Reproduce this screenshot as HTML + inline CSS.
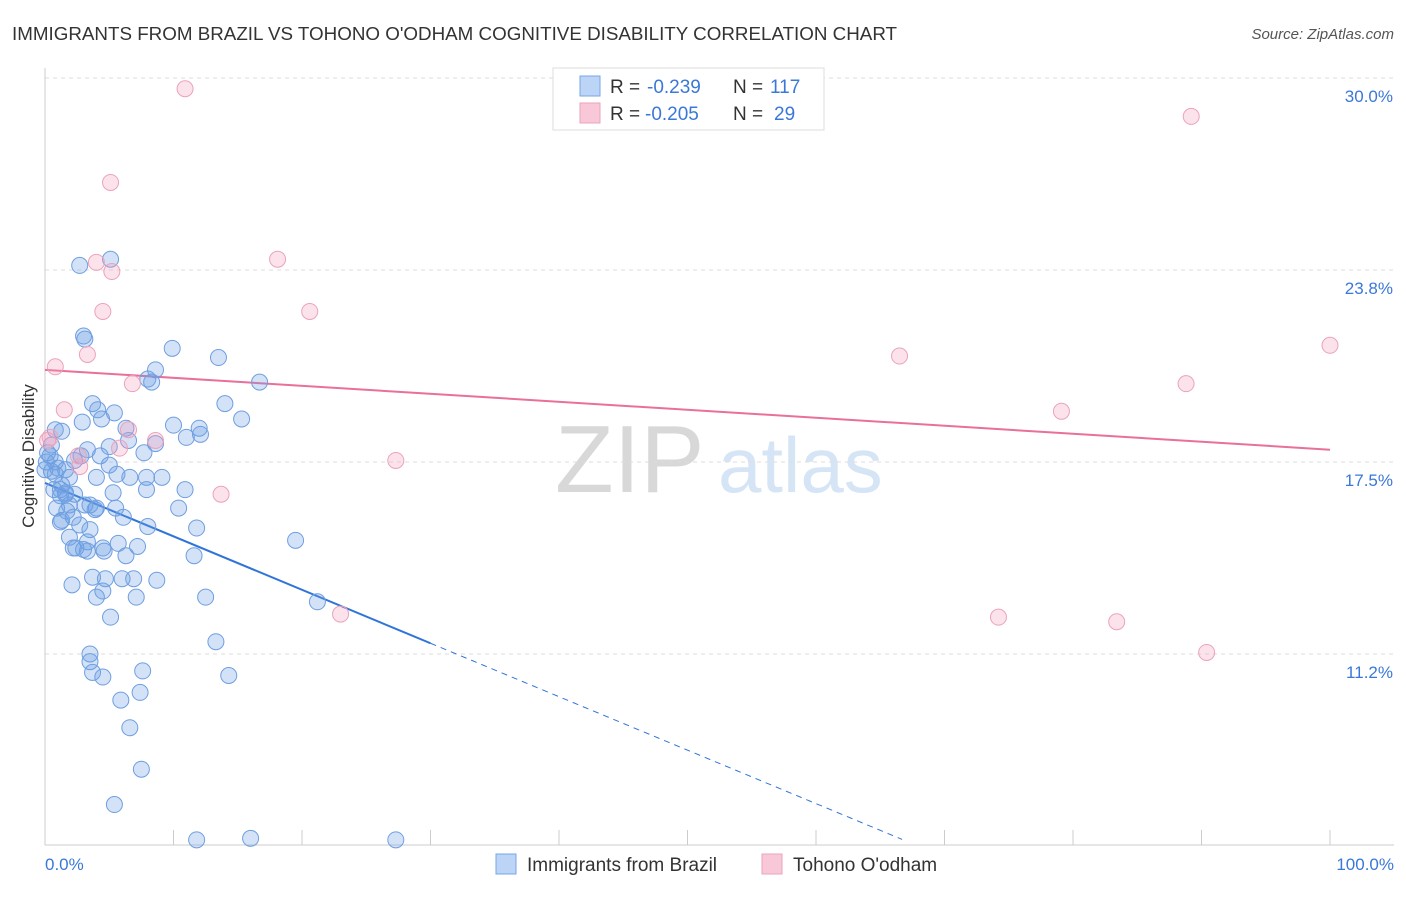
<!DOCTYPE html>
<html><head><meta charset="utf-8"><style>
body{margin:0;background:#fff;font-family:"Liberation Sans",sans-serif}
svg text{font-family:"Liberation Sans",sans-serif}
</style></head><body>
<svg id="chart" width="1406" height="892" viewBox="0 0 1406 892" xmlns="http://www.w3.org/2000/svg">
<text x="12" y="40" font-size="18.8" fill="#333">IMMIGRANTS FROM BRAZIL VS TOHONO O'ODHAM COGNITIVE DISABILITY CORRELATION CHART</text>
<text x="1394" y="39" font-size="15" fill="#555" text-anchor="end" font-style="italic">Source: ZipAtlas.com</text>
<text transform="translate(34,456) rotate(-90)" font-size="17" fill="#333" text-anchor="middle">Cognitive Disability</text>
<g>
<text x="555" y="492" font-size="96" fill="#d8d8d8" font-family="Liberation Serif">ZIP</text>
<text x="718" y="492" font-size="78" fill="#d6e5f6">atlas</text>
</g>
<g id="grid"></g><g id="axes"></g><g id="lines"></g><g id="pts"></g>
<g>
<rect x="553" y="68" width="271" height="62" fill="#fff" stroke="#ddd"/>
<rect x="580" y="76" width="20" height="20" fill="#bcd4f5" stroke="#7aa6e6"/>
<text x="610" y="93" font-size="19" fill="#333">R =</text>
<text x="647" y="93" font-size="19" fill="#3a78d8">-0.239</text>
<text x="733" y="93" font-size="19" fill="#333">N =</text>
<text x="770" y="93" font-size="19" fill="#3a78d8">117</text>
<rect x="580" y="103" width="20" height="20" fill="#f9c8d8" stroke="#eba3bb"/>
<text x="610" y="120" font-size="19" fill="#333">R =</text>
<text x="645" y="120" font-size="19" fill="#3a78d8">-0.205</text>
<text x="733" y="120" font-size="19" fill="#333">N =</text>
<text x="774" y="120" font-size="19" fill="#3a78d8">29</text>
</g>
<g>
<rect x="496" y="854" width="20" height="20" fill="#bcd4f5" stroke="#7aa6e6"/>
<text x="527" y="871" font-size="19" fill="#333">Immigrants from Brazil</text>
<rect x="762" y="854" width="20" height="20" fill="#f9c8d8" stroke="#eba3bb"/>
<text x="793" y="871" font-size="19" fill="#333">Tohono O'odham</text>
</g>
</svg>
<script>
const yTicks=[11.25,17.5,23.75,30.0];
const yTickLabels=["11.2%","17.5%","23.8%","30.0%"];
const xEndLabels=["0.0%","100.0%"];
const brazilX=[2.7,5.1,3.0,3.1,9.9,13.5,8.6,8.0,8.3,16.7,3.7,4.1,5.4,14.0,15.3,4.4,2.9,10.0,12.0,12.1,11.0,1.3,6.3,6.5,8.6,5.0,3.3,7.7,0.4,0.8,5.0,1.0,2.8,0.5,5.6,6.6,7.9,9.1,4.0,1.9,1.3,0.7,1.6,1.2,7.9,10.9,5.3,3.5,4.0,5.5,10.4,0.9,1.7,2.2,1.2,6.1,8.0,11.8,3.3,2.2,2.4,3.0,4.5,3.3,5.7,7.2,1.9,4.6,6.3,11.6,19.5,3.7,4.7,6.0,6.9,8.7,2.1,4.5,4.0,7.1,12.5,21.2,5.1,13.3,3.5,3.5,3.7,4.5,14.3,7.6,7.4,5.9,6.6,7.5,5.4,11.8,16.0,27.3,0.8,0.5,0.2,0.1,1.2,1.6,2.3,1.9,3.1,3.9,1.3,2.7,3.5,0.8,1.6,4.3,2.3,0.0];
const brazilY=[23.9,24.1,21.6,21.5,21.2,20.9,20.5,20.2,20.1,20.1,19.4,19.2,19.1,19.4,18.9,18.9,18.8,18.7,18.6,18.4,18.3,18.5,18.6,18.2,18.1,18.0,17.9,17.8,17.7,17.5,17.4,17.3,17.7,17.2,17.1,17.0,17.0,17.0,17.0,17.0,16.75,16.6,16.5,16.4,16.6,16.6,16.5,16.1,16.0,16.0,16.0,16.0,15.9,15.7,15.55,15.7,15.4,15.35,14.9,14.7,14.7,14.65,14.7,14.6,14.85,14.75,15.05,14.6,14.45,14.45,14.95,13.75,13.7,13.7,13.7,13.65,13.5,13.3,13.1,13.1,13.1,12.95,12.45,11.65,11.25,11.0,10.65,10.5,10.55,10.7,10.0,9.75,8.85,7.5,6.35,5.2,5.25,5.2,18.55,18.05,17.8,17.5,16.6,16.45,16.45,16.1,16.1,15.95,15.6,15.45,15.3,17.1,17.25,17.7,17.55,17.25];
const tohonoX=[10.9,89.2,5.1,18.1,4.0,5.2,20.6,4.5,3.3,0.8,66.5,100,6.8,88.8,1.5,79.1,6.5,8.6,5.8,0.4,2.6,2.7,27.3,13.7,23.0,74.2,83.4,90.4,0.2];
const tohonoY=[29.65,28.75,26.6,24.1,24.0,23.7,22.4,22.4,21.0,20.6,20.95,21.3,20.05,20.05,19.2,19.15,18.55,18.2,17.95,18.3,17.7,17.35,17.55,16.45,12.55,12.45,12.3,11.3,18.2];
const brazilTrend=[16.82,-0.174]; // intercept, slope
const tohonoTrend=[20.5,-0.026];
const NS="http://www.w3.org/2000/svg";
const X0=45,X1=1330,YB=654,YT=78;
const xs=v=>X0+(X1-X0)*v/100;
const ys=v=>YB-(v-11.25)*(YB-YT)/18.75;
function mk(tag,attrs,parent){const e=document.createElementNS(NS,tag);for(const k in attrs)e.setAttribute(k,attrs[k]);parent.appendChild(e);return e;}
const grid=document.getElementById('grid'),axes=document.getElementById('axes'),lines=document.getElementById('lines'),pts=document.getElementById('pts');
yTicks.forEach((t,i)=>{
 const l=mk('line',{x1:X0,x2:1394,y1:ys(t),y2:ys(t),stroke:'#ddd','stroke-dasharray':'4,4'},grid);
 
 
 const tx=mk('text',{x:1393,y:ys(t)+24,'font-size':17,fill:'#3a78d8','text-anchor':'end'},axes);
 tx.textContent=yTickLabels[i];
 
 
});
const ax=mk('line',{x1:X0,x2:X0,y1:68,y2:845,stroke:'#ccc'},axes);


const bx=mk('line',{x1:X0,x2:1394,y1:845,y2:845,stroke:'#ccc'},axes);


for(let i=0;i<=10;i++){
 const tk=mk('line',{x1:xs(i*10),x2:xs(i*10),y1:830,y2:845,stroke:'#ccc'},axes);
 
 
}
[[0,'start',X0],[1,'end',1394]].forEach(([i,a,x])=>{
 const t=mk('text',{x:x,y:870,'font-size':17,fill:'#3a78d8','text-anchor':a},axes);
 t.textContent=xEndLabels[i];
 
 
});
function dots(X,Y,fill,stroke,name){
 X.forEach((x,i)=>{
  const c=mk('circle',{cx:xs(x),cy:ys(Y[i]),r:8,fill:fill,stroke:stroke,'stroke-width':1},pts);
  
  
 });
}
dots(brazilX,brazilY,'rgba(110,160,230,0.3)','#6f9fe0','brazil-point');
dots(tohonoX,tohonoY,'rgba(245,160,190,0.3)','#eba3bb','tohono-point');
const bf=x=>brazilTrend[0]+brazilTrend[1]*x;
const l1=mk('line',{x1:xs(0),y1:ys(bf(0)),x2:xs(30),y2:ys(bf(30)),stroke:'#2f74d8','stroke-width':2},lines);


const l2=mk('line',{x1:xs(30),y1:ys(bf(30)),x2:xs(66.7),y2:ys(bf(66.7)),stroke:'#2f74d8','stroke-width':1,'stroke-dasharray':'6,5'},lines);


const tf=x=>tohonoTrend[0]+tohonoTrend[1]*x;
const l3=mk('line',{x1:xs(0),y1:ys(tf(0)),x2:xs(100),y2:ys(tf(100)),stroke:'#e8709a','stroke-width':2},lines);


</script>
</body></html>
